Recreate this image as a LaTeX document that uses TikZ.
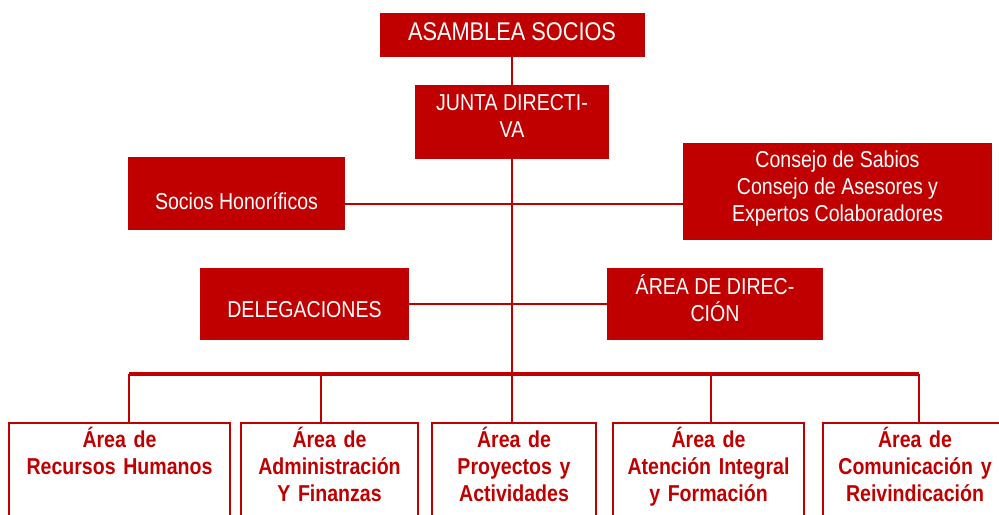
\documentclass[tikz,border=0pt]{standalone}
\usepackage{fontspec}
\setmainfont{Liberation Sans}[FakeStretch=0.85]
\definecolor{rojo}{HTML}{C00000}
\begin{document}
\begin{tikzpicture}[x=0.75pt,y=-0.75pt,
    organo/.style={fill=rojo,text=white,inner sep=0pt,align=center,
      font=\fontsize{17.25}{20.25}\selectfont},
    area/.style={draw=rojo,line width=1.5pt,fill=white,text=rojo,anchor=north,
      inner xsep=0pt,inner ysep=4pt,align=center,text height=14pt,text depth=60pt,
      font=\fontsize{17.25}{20.25}\selectfont\bfseries},
    enlace/.style={draw=rojo,line width=1.4pt}]
  \useasboundingbox (0,0) rectangle (999,514);
  \node[organo,minimum width=198.75pt,minimum height=33pt,text depth=4.5pt,font=\fontsize{19.2}{22}\selectfont] (asamblea) at (512,34.5) {ASAMBLEA SOCIOS};
  \node[organo,minimum width=145.5pt,minimum height=55.5pt,text depth=9pt] (junta) at (512,122) {JUNTA DIRECTI-\\VA};
  \node[organo,minimum width=162.75pt,minimum height=54.75pt,text height=24.6pt] (honorificos) at (236.5,193.5) {Socios Honoríficos};
  \node[organo,minimum width=231.75pt,minimum height=72.75pt,text depth=8pt] (consejo) at (837.5,191.5) {Consejo de Sabios\\Consejo de Asesores y\\Expertos Colaboradores};
  \node[organo,minimum width=156.75pt,minimum height=54pt,text height=19.9pt] (delegaciones) at (304.5,304) {DELEGACIONES};
  \node[organo,minimum width=162pt,minimum height=54pt,text depth=9pt] (direccion) at (715,304) {ÁREA DE DIREC-\\CIÓN};
  \node[area,text width=165.75pt] (rrhh) at (119.5,422) {Área de\\Recursos Humanos};
  \node[area,text width=132.75pt] (admin) at (329.5,422) {Área de\\Administración\\Y Finanzas};
  \node[area,text width=123pt] (proyectos) at (514,422) {Área de\\Proyectos y\\Actividades};
  \node[area,text width=143.25pt] (atencion) at (708.5,422) {Área de\\Atención Integral\\y Formación};
  \node[area,text width=138pt] (comunica) at (915,422) {Área de\\Comunicación y\\Reivindicación};
  \coordinate (hsocios) at (512,204);
  \coordinate (b1) at (129,374);
  \coordinate (b2) at (321,374);
  \coordinate (b3) at (512,374);
  \coordinate (b4) at (711,374);
  \coordinate (b5) at (919,374);
  \draw[enlace] (asamblea.south) -- (junta.north);
  \draw[enlace] (junta.south) -- (b3);
  \draw[enlace] (honorificos.east |- hsocios) -- (consejo.west |- hsocios);
  \draw[enlace] (delegaciones.east) -- (direccion.west);
  \draw[draw=rojo,line width=2.5pt] (b1) -- (b5);
  \draw[enlace] (b1) -- (b1 |- rrhh.north);
  \draw[enlace] (b2) -- (b2 |- admin.north);
  \draw[enlace] (b3) -- (b3 |- proyectos.north);
  \draw[enlace] (b4) -- (b4 |- atencion.north);
  \draw[enlace] (b5) -- (b5 |- comunica.north);
\end{tikzpicture}
\end{document}
